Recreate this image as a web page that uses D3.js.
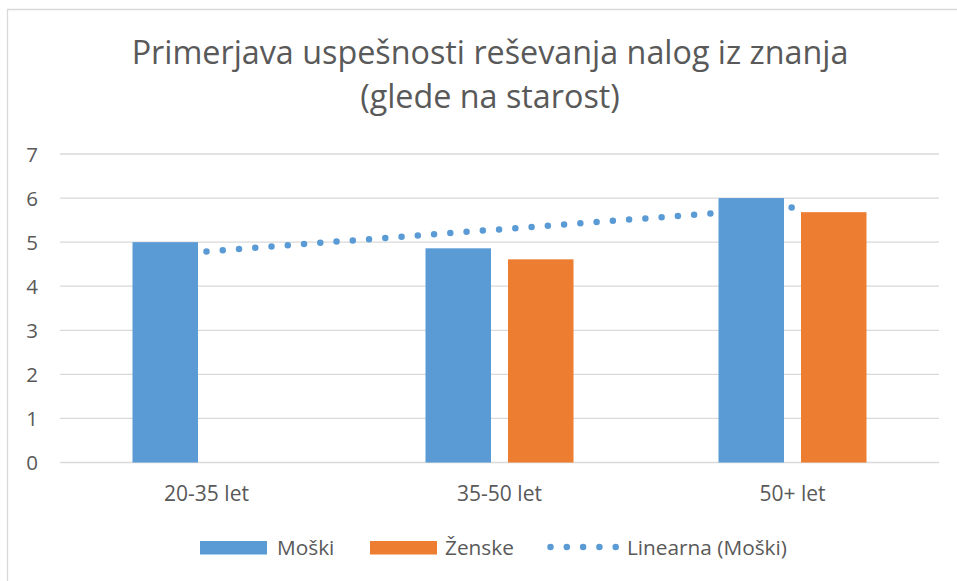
<!DOCTYPE html>
<html>
<head>
<meta charset="utf-8">
<script src="https://cdn.jsdelivr.net/npm/d3@7"></script>
<style>
  body { margin: 0; background: #fff; }
  svg { display: block; }
  text { font-family: "Open Sans", "Noto Sans", sans-serif; fill: #595959; }
</style>
</head>
<body>
<svg id="chart" width="957" height="581"></svg>
<script>
// ---- data ----
const titleLines = ["Primerjava uspešnosti reševanja nalog iz znanja", "(glede na starost)"];
const categories = ["20-35 let", "35-50 let", "50+ let"];
const seriesNames = ["Moški", "Ženske"];
const moskiValues = [5.0, 4.86, 6.0];
const zenskeValues = [null, 4.61, 5.68];
const trendLabel = "Linearna (Moški)";
const trendValues = [4.79, 5.79]; // linear trend of Moški at first and last category
const yTicks = [0, 1, 2, 3, 4, 5, 6, 7];

const colors = { "Moški": "#5b9bd5", "Ženske": "#ed7d31" };
const textColor = "#595959";
const gridColor = "#d9d9d9";

const svg = d3.select("#chart");
const W = 957, H = 581;
const plot = { left: 60, right: 939, top: 154, bottom: 462.5 };

// chart border (top and left visible)
svg.append("path")
  .attr("d", `M7.5,${H} L7.5,9.5 L${W},9.5`)
  .attr("fill", "none").attr("stroke", gridColor).attr("stroke-width", 1.3);

// title
svg.append("g").selectAll("text").data(titleLines).join("text")
  .attr("x", 490).attr("y", (d, i) => 64 + i * 44)
  .attr("text-anchor", "middle")
  .attr("font-size", 32.3)
  .text(d => d);

// scales
const x0 = d3.scaleBand().domain(categories).range([plot.left, plot.right]).paddingInner(0).paddingOuter(0);
const x1 = d3.scaleBand().domain(seriesNames).range([-74, 74]).paddingInner(0.206).paddingOuter(0);
const y = d3.scaleLinear().domain([0, 7]).range([plot.bottom, plot.top]);

// gridlines
svg.append("g").selectAll("line").data(yTicks).join("line")
  .attr("x1", plot.left).attr("x2", plot.right)
  .attr("y1", d => y(d)).attr("y2", d => y(d))
  .attr("stroke", gridColor).attr("stroke-width", 1.3);

// y axis labels
const yAxis = d3.axisLeft(y).tickValues(yTicks).tickSize(0).tickPadding(0).tickFormat(d3.format("d"));
const yg = svg.append("g").attr("transform", "translate(38,0)").call(yAxis);
yg.select(".domain").remove();
yg.selectAll("text").attr("font-size", 20.5).attr("fill", textColor)
  .style("font-family", '"Open Sans", sans-serif').attr("dy", "0.36em");

// x axis labels
const xAxis = d3.axisBottom(x0).tickSize(0).tickPadding(0);
const xg = svg.append("g").attr("transform", "translate(0,501)").call(xAxis);
xg.select(".domain").remove();
xg.selectAll("text").attr("font-size", 21).attr("fill", textColor).attr("dy", 0)
  .style("font-family", '"Open Sans", sans-serif');

// trendline (drawn behind bars)
const cx = c => x0(c) + x0.bandwidth() / 2;
const trendPts = [[cx(categories[0]), y(trendValues[0])], [cx(categories[categories.length - 1]), y(trendValues[1])]];
svg.append("path")
  .attr("d", d3.line()(trendPts))
  .attr("fill", "none").attr("stroke", colors["Moški"])
  .attr("stroke-width", 6.5).attr("stroke-linecap", "round")
  .attr("stroke-dasharray", "0 16.3");

// bars
const rows = categories.map((c, i) => ({ cat: c, vals: [
  { s: "Moški", v: moskiValues[i] }, { s: "Ženske", v: zenskeValues[i] }] }));
const groups = svg.append("g").selectAll("g").data(rows).join("g")
  .attr("transform", d => `translate(${cx(d.cat)},0)`);
groups.selectAll("rect").data(d => d.vals.filter(e => e.v != null)).join("rect")
  .attr("x", d => x1(d.s)).attr("width", x1.bandwidth())
  .attr("y", d => y(d.v)).attr("height", d => y(0) - y(d.v))
  .attr("fill", d => colors[d.s]);

// legend
const legend = svg.append("g");
const legendItems = [
  { type: "rect", name: "Moški", sx: 200, tx: 277 },
  { type: "rect", name: "Ženske", sx: 370, tx: 445 },
  { type: "dots", name: trendLabel, sx: 550.5, tx: 627 }
];
legendItems.forEach(it => {
  if (it.type === "rect") {
    legend.append("rect").attr("x", it.sx).attr("y", 541).attr("width", 67).attr("height", 13.5)
      .attr("fill", colors[it.name]);
  } else {
    legend.append("path").attr("d", `M${it.sx},547 L${it.sx + 65.2},547`)
      .attr("stroke", colors["Moški"]).attr("stroke-width", 6.5)
      .attr("stroke-linecap", "round").attr("stroke-dasharray", "0 16.3");
  }
  legend.append("text").attr("x", it.tx).attr("y", 555).attr("font-size", 20.8).text(it.name);
});
</script>
</body>
</html>
